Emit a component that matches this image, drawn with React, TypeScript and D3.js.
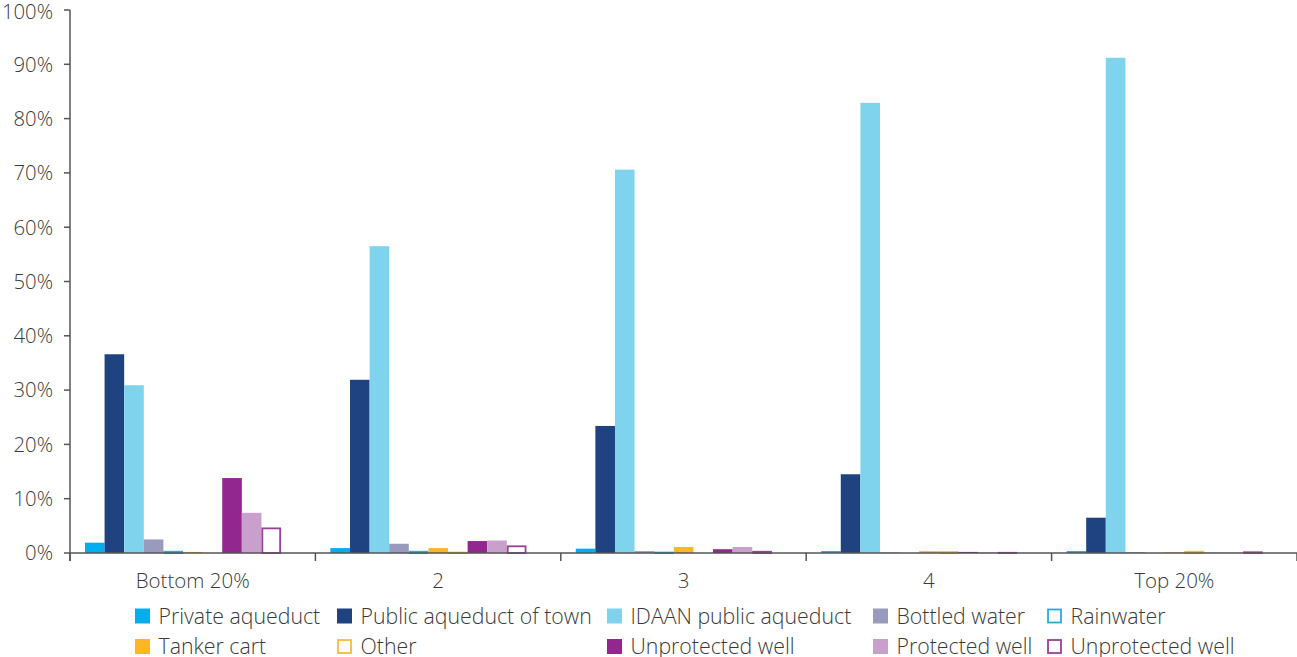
import React from "react";
import * as d3 from "d3";

// Household income quintiles on the x axis
const quintiles = ["Bottom 20%", "2", "3", "4", "Top 20%"];

// Source-of-water series, in draw order inside each quintile
const seriesNames = [
  "Private aqueduct",
  "Public aqueduct of town",
  "IDAAN public aqueduct",
  "Bottled water",
  "Rainwater",
  "Tanker cart",
  "Other",
  "Unprotected well",
  "Protected well",
  "Unprotected well ",
];

// Share of households (%) per quintile, one array per series
const privateAqueduct = [1.9, 0.9, 0.8, 0.35, 0.35];
const publicAqueductTown = [36.6, 31.9, 23.4, 14.5, 6.5];
const idaanAqueduct = [30.9, 56.5, 70.6, 82.9, 91.2];
const bottledWater = [2.5, 1.7, 0.35, 0.1, 0.15];
const rainwater = [0.4, 0.4, 0.25, 0.1, 0];
const tankerCart = [0.2, 0.9, 1.1, 0.35, 0.15];
const other = [0.1, 0.25, 0, 0.35, 0.4];
const unprotectedWell = [13.8, 2.2, 0.7, 0.2, 0.05];
const protectedWell = [7.4, 2.3, 1.1, 0.1, 0.05];
const unprotectedWell2 = [4.7, 1.4, 0.4, 0.2, 0.3];

const seriesValues = [
  privateAqueduct,
  publicAqueductTown,
  idaanAqueduct,
  bottledWater,
  rainwater,
  tankerCart,
  other,
  unprotectedWell,
  protectedWell,
  unprotectedWell2,
];

// Fill / outline styling per series (outlined series have a white fill)
const seriesFill = [
  "#00aeef",
  "#1e4380",
  "#7fd3ed",
  "#999bbe",
  "#ffffff",
  "#fdb626",
  "#ffffff",
  "#92278f",
  "#c9a0cb",
  "#ffffff",
];
const seriesStroke = [
  null,
  null,
  null,
  null,
  "#29abe2",
  null,
  "#fdba3a",
  null,
  null,
  "#9b3f9b",
];

const yTicks = [0, 10, 20, 30, 40, 50, 60, 70, 80, 90, 100];

// Legend layout: two rows of five entries
const legendRows = [
  [0, 1, 2, 3, 4],
  [5, 6, 7, 8, 9],
];

const W = 1297;
const H = 657;
const FONT = "'Open Sans', 'Liberation Sans', Arial, sans-serif";
const TEXT = "#3a3a3a";
const AXIS = "#555555";

export default function App() {
  const left = 70;
  const right = W;
  const top = 10;
  const bottom = 553;

  const x0 = d3.scaleBand<string>().domain(quintiles).range([left, right]).padding(0);
  const bw = x0.bandwidth();
  // The group leaves room for one more (empty) slot at the right end
  const slot = bw * 0.0799;
  const start = bw * 0.061;
  const x1 = d3
    .scaleBand<string>()
    .domain(seriesNames)
    .range([start, start + slot * seriesNames.length])
    .padding(0);
  const y = d3.scaleLinear().domain([0, 100]).range([bottom, top]);

  const legendCols = [135, 337, 607, 873, 1047];
  const legendY = [616, 646.5];

  const boundaries = quintiles.map((q) => x0(q) as number).concat([right]);

  return (
    <svg width={W} height={H} style={{ position: "absolute", left: 0, top: 0, background: "#fff" }}>
      {/* bars */}
      {quintiles.map((q, qi) => (
        <g key={q} transform={`translate(${x0(q)},0)`}>
          {seriesNames.map((s, si) => {
            const v = seriesValues[si][qi];
            const yy = y(v);
            const h = bottom - yy;
            const stroke = seriesStroke[si];
            const bx = x1(s) as number;
            if (stroke) {
              return (
                <rect
                  key={s}
                  x={bx + 0.9}
                  y={yy + 0.9}
                  width={x1.bandwidth() - 1.8}
                  height={Math.max(h - 0.9, 0)}
                  fill={seriesFill[si]}
                  stroke={stroke}
                  strokeWidth={1.8}
                />
              );
            }
            return (
              <rect key={s} x={bx} y={yy} width={x1.bandwidth()} height={h} fill={seriesFill[si]} />
            );
          })}
        </g>
      ))}

      {/* y axis */}
      <line x1={left} x2={left} y1={top} y2={561} stroke={AXIS} strokeWidth={1.5} />
      {yTicks.map((t) => (
        <g key={t}>
          <line x1={left - 6} x2={left} y1={y(t)} y2={y(t)} stroke={AXIS} strokeWidth={1.5} />
          <text
            x={53}
            y={Math.max(y(t), 12)}
            dy="0.36em"
            textAnchor="end"
            fontFamily={FONT}
            fontWeight={300}
            fontSize={20.3}
            fill={TEXT}
          >
            {t}%
          </text>
        </g>
      ))}

      {/* x axis */}
      <line x1={left} x2={right} y1={bottom} y2={bottom} stroke={AXIS} strokeWidth={1.5} />
      {boundaries.map((b, i) => (
        <line key={i} x1={b} x2={b} y1={bottom} y2={561} stroke={AXIS} strokeWidth={1.5} />
      ))}
      {quintiles.map((q) => (
        <text
          key={q}
          x={(x0(q) as number) + bw / 2}
          y={588}
          textAnchor="middle"
          fontFamily={FONT}
          fontWeight={300}
          fontSize={20.5}
          fill={TEXT}
        >
          {q}
        </text>
      ))}

      {/* legend */}
      {legendRows.map((row, ri) =>
        row.map((si, ci) => {
          const lx = legendCols[ci];
          const ly = legendY[ri];
          const stroke = seriesStroke[si];
          return (
            <g key={`${ri}-${ci}`}>
              {stroke ? (
                <rect x={lx + 1} y={ly - 6.5} width={13} height={13} fill="#fff" stroke={stroke} strokeWidth={1.8} />
              ) : (
                <rect x={lx} y={ly - 7.5} width={15} height={15} fill={seriesFill[si]} />
              )}
              <text
                x={lx + 23.5}
                y={ly}
                dy="0.36em"
                fontFamily={FONT}
                fontWeight={300}
                fontSize={21.3}
                fill={TEXT}
              >
                {seriesNames[si].trim()}
              </text>
            </g>
          );
        })
      )}
    </svg>
  );
}
